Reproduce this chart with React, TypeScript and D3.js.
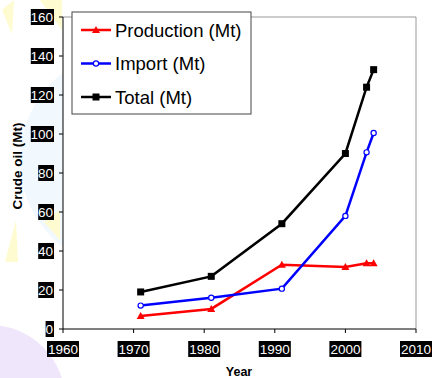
import React from "react";
import * as d3 from "d3";

const years = [1971, 1981, 1991, 2000, 2003, 2004];
const production = [6.7, 10.3, 33, 31.8, 33.7, 33.7];
const importVals = [12, 16, 20.7, 58, 90.6, 100.5];
const total = [19, 27, 54, 90, 124, 133];
const xTicks = [1960, 1970, 1980, 1990, 2000, 2010];
const yTicks = [0, 20, 40, 60, 80, 100, 120, 140, 160];
const seriesNames = ["Production (Mt)", "Import (Mt)", "Total (Mt)"];

const W = 432, H = 378;
const L = 63, R = 416, T = 17, B = 329;

export default function App() {
  const x = d3.scaleLinear().domain([1960, 2010]).range([L, R]);
  const y = d3.scaleLinear().domain([0, 160]).range([B, T]);
  const line = d3.line<[number, number]>().x(d => x(d[0])).y(d => y(d[1]));
  const series = [
    { name: seriesNames[0], vals: production, color: "#ff0000", marker: "tri" },
    { name: seriesNames[1], vals: importVals, color: "#0000ff", marker: "circ" },
    { name: seriesNames[2], vals: total, color: "#000000", marker: "sq" },
  ];
  const marker = (m: string, cx: number, cy: number, c: string, k: string) => {
    if (m === "tri") return <path key={k} d={`M${cx},${cy - 4}L${cx + 4},${cy + 3}L${cx - 4},${cy + 3}Z`} fill={c} />;
    if (m === "circ") return <circle key={k} cx={cx} cy={cy} r={2.6} fill="white" stroke={c} strokeWidth={1.2} />;
    return <rect key={k} x={cx - 3.5} y={cy - 3.5} width={7} height={7} fill={c} />;
  };
  return (
    <svg width={W} height={H} style={{ position: "absolute", left: 0, top: 0, fontFamily: "Liberation Sans, Arial, sans-serif" }}>
      <rect width={W} height={H} fill="white" />
      {/* faint background decoration */}
      <circle cx={130} cy={160} r={110} fill="#f1f8fe" />
      <circle cx={-10} cy={400} r={75} fill="#efe6fb" />
      <path d="M2,10 L14,0 L12,34 Z" fill="#fffbd0" />
      <path d="M40,0 L62,0 L62,30 Z" fill="#fffbd0" />
      <path d="M5,262 L16,220 L18,262 Z" fill="#fffbd0" />
      <path d="M44,222 L60,210 L60,240 Z" fill="#fffbd0" />
      <rect x={L} y={T} width={R - L} height={B - T} fill="white" />
      {/* frame */}
      <path d={`M${L},${T}H${R}V${B}`} fill="none" stroke="#999" strokeWidth={1} />
      <line x1={L} y1={T} x2={L} y2={B} stroke="black" />
      <line x1={L} y1={B} x2={R} y2={B} stroke="black" />
      {yTicks.map(t => (
        <g key={"y" + t}>
          <line x1={L - 4} x2={L} y1={y(t)} y2={y(t)} stroke="black" />
          <rect x={53 - String(t).length * 7.4} y={y(t) - 8} width={String(t).length * 7.4 + 1} height={16} fill="black" />
          <text x={53} y={y(t) + 5} textAnchor="end" fill="white" fontSize={13.5}>{t}</text>
        </g>
      ))}
      {xTicks.map(t => (
        <g key={"x" + t}>
          <line x1={x(t)} x2={x(t)} y1={B} y2={B + 4} stroke="black" />
          <rect x={x(t) - 16} y={341} width={32} height={16} fill="black" />
          <text x={x(t)} y={354} textAnchor="middle" fill="white" fontSize={13.5}>{t}</text>
        </g>
      ))}
      <text x={239} y={376} textAnchor="middle" fontSize={12.5} fontWeight="bold">Year</text>
      <text transform={`translate(22,166) rotate(-90)`} textAnchor="middle" fontSize={13.5} fontWeight="bold">Crude oil (Mt)</text>
      {series.map(s => (
        <g key={s.name}>
          <path d={line(years.map((yr, i) => [yr, s.vals[i]] as [number, number])) || ""} fill="none" stroke={s.color} strokeWidth={2.5} />
          {years.map((yr, i) => marker(s.marker, x(yr), y(s.vals[i]), s.color, s.name + i))}
        </g>
      ))}
      {/* legend */}
      <rect x={72} y={12} width={179} height={102} fill="white" stroke="#444" strokeWidth={1} />
      {series.map((s, i) => {
        const ly = 30 + i * 33.5;
        return (
          <g key={"lg" + i}>
            <line x1={81} x2={111} y1={ly} y2={ly} stroke={s.color} strokeWidth={2.5} />
            {marker(s.marker, 96, ly, s.color, "lm" + i)}
            <text x={115} y={ly + 6.5} fontSize={18.5}>{s.name}</text>
          </g>
        );
      })}
    </svg>
  );
}
